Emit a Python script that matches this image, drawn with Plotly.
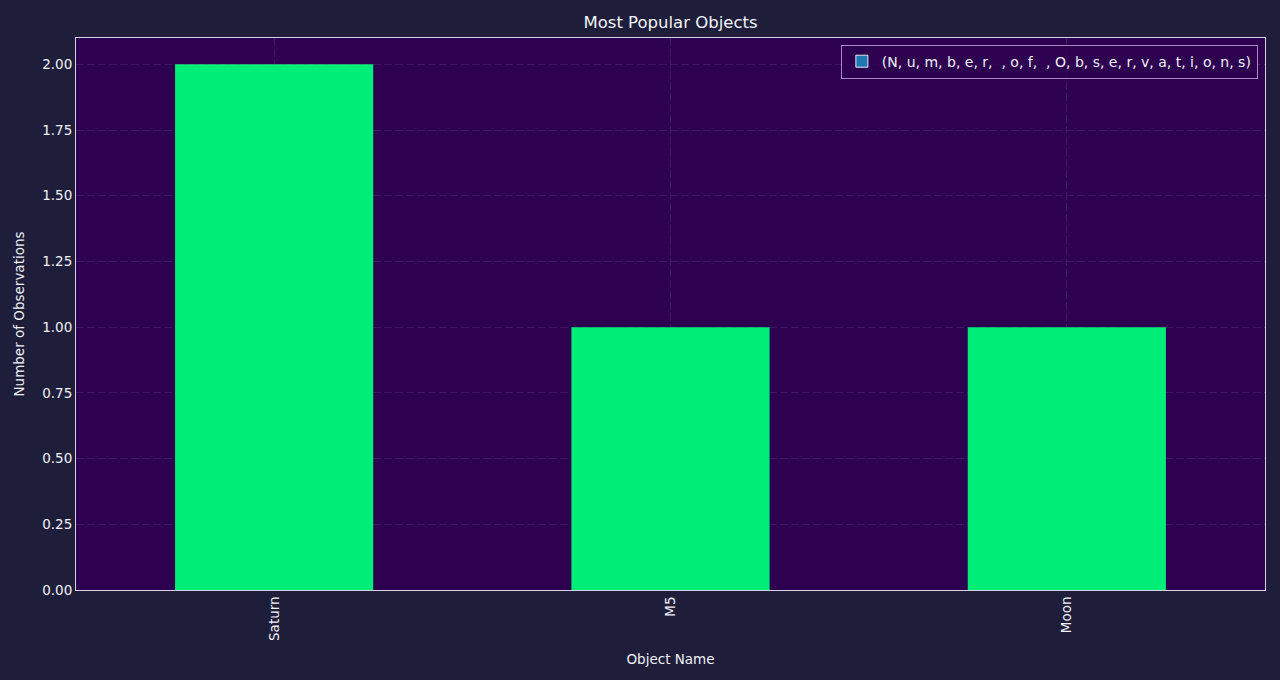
import plotly.graph_objects as go

# observation counts per object
objects = ["Saturn", "M5", "Moon"]
counts = [2, 1, 1]
legend_label = "(N, u, m, b, e, r,  , o, f,  , O, b, s, e, r, v, a, t, i, o, n, s)"

fig = go.Figure()

# the real bars (green), legend comes from the dummy trace below
fig.add_trace(go.Bar(
    x=objects,
    y=counts,
    marker=dict(color="#00ee77", line=dict(width=0)),
    showlegend=False,
))

# empty trace just to get the blue legend patch
fig.add_trace(go.Bar(
    x=[objects[0]],
    y=[None],
    name=legend_label,
    marker=dict(color="#1f77b4", line=dict(color="#e8e8f0", width=1)),
    showlegend=True,
))

grid_col = "rgba(85,35,120,0.55)"

fig.update_layout(
    width=1280,
    height=680,
    paper_bgcolor="#1e1e3a",
    plot_bgcolor="#2d0050",
    font=dict(family="DejaVu Sans", size=13.5, color="#f0f0f8"),
    # title centred over the plot area, not the whole page
    title=dict(text="Most Popular Objects", xref="paper", x=0.5, xanchor="center", y=0.976,
               font=dict(size=16.5, color="#f4f4fa")),
    margin=dict(l=76, r=15, t=38, b=90),
    barmode="overlay",
    bargap=0.5,
    legend=dict(
        x=0.994, y=0.988, xanchor="right", yanchor="top",
        bgcolor="rgba(45,0,80,0.8)",
        bordercolor="#a888c8", borderwidth=1,
        font=dict(size=14, color="#f0f0f8"),
    ),
)

fig.update_xaxes(
    title=dict(text="Object Name", standoff=14, font=dict(size=13.5)),
    tickangle=-90,
    showline=True, linecolor="#d8d0e8", linewidth=1, mirror=True,
    showgrid=True, gridcolor=grid_col, griddash="8px,3px", gridwidth=0.6,
    ticks="",
)
fig.update_yaxes(
    title=dict(text="Number of Observations", standoff=14, font=dict(size=13.5)),
    range=[0, 2.1],
    tickvals=[0, 0.25, 0.5, 0.75, 1.0, 1.25, 1.5, 1.75, 2.0],
    tickformat=".2f",
    showline=True, linecolor="#d8d0e8", linewidth=1, mirror=True,
    showgrid=True, gridcolor=grid_col, griddash="8px,3px", gridwidth=0.6,
    zeroline=False,
    ticks="",
)

# drop the default page margin so the figure sits flush in the window
fig.write_html("out.html", config={"displayModeBar": False},
               post_script="document.body.style.margin='0';")
